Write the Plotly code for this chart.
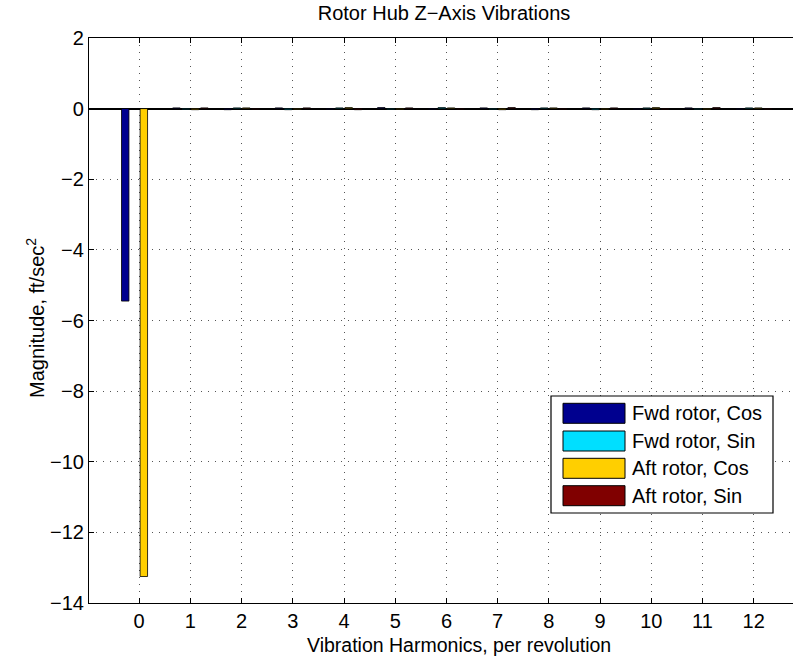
import plotly.graph_objects as go

# Harmonic numbers (per revolution) on the x axis
harmonics = list(range(0, 13))

# Hub vibration components, ft/sec^2
fwd_cos = [-5.45, 0.02, -0.03, 0.02, -0.02, 0.03, -0.02, 0.02, -0.03, 0.02, -0.02, 0.02, -0.02]
fwd_sin = [0.0, -0.02, 0.02, -0.03, 0.02, -0.02, 0.03, -0.02, 0.02, -0.03, 0.02, -0.02, 0.02]
aft_cos = [-13.25, -0.03, 0.02, -0.02, 0.03, -0.02, 0.02, -0.03, 0.02, -0.02, 0.03, -0.02, 0.02]
aft_sin = [0.0, 0.02, -0.02, 0.02, -0.03, 0.02, -0.02, 0.03, -0.02, 0.02, -0.02, 0.03, -0.02]

series_names = ["Fwd rotor, Cos", "Fwd rotor, Sin", "Aft rotor, Cos", "Aft rotor, Sin"]
series_values = [fwd_cos, fwd_sin, aft_cos, aft_sin]
series_colors = ["#00008F", "#00DFFF", "#FFCF00", "#800000"]

y_ticks = list(range(-14, 3, 2))

W, H = 793, 660
L, R, T, B = 89, 0, 38, 57
FONT = "Liberation Sans, Arial, Helvetica, sans-serif"
FS = 20

fig = go.Figure()
for name, vals, col in zip(series_names, series_values, series_colors):
    fig.add_trace(go.Bar(
        x=harmonics, y=vals, name=name,
        marker=dict(color=col, line=dict(color="black", width=0.8)),
        showlegend=False,
    ))

# Pixel -> paper helpers for the hand-built legend box and axis labels
pw, ph = W - L - R, H - T - B
def px(x):
    return (x - L) / pw
def py(y):
    return (H - B - y) / ph

shapes = [dict(type="rect", xref="paper", yref="paper",
               x0=px(551), x1=px(773), y0=py(513), y1=py(396),
               line=dict(color="black", width=1.2), fillcolor="white", layer="above")]
annotations = []
row_centers = [413.3, 441.0, 468.3, 495.7]
for name, col, yc in zip(series_names, series_colors, row_centers):
    shapes.append(dict(type="rect", xref="paper", yref="paper",
                       x0=px(563), x1=px(625), y0=py(yc + 10), y1=py(yc - 10),
                       line=dict(color="black", width=1), fillcolor=col, layer="above"))
    annotations.append(dict(xref="paper", yref="paper", x=px(630), y=py(yc),
                            xanchor="left", yanchor="middle", text=name, showarrow=False,
                            font=dict(family=FONT, size=FS, color="black")))

# Axis labels
annotations.append(dict(xref="paper", yref="paper", x=px(459), y=py(645),
                        xanchor="center", yanchor="middle",
                        text="Vibration Harmonics, per revolution", showarrow=False,
                        font=dict(family=FONT, size=19.5, color="black")))
annotations.append(dict(xref="paper", yref="paper", x=px(35), y=py(318),
                        xanchor="center", yanchor="middle", textangle=-90,
                        text="Magnitude, ft/sec<sup>2</sup>", showarrow=False,
                        font=dict(family=FONT, size=FS, color="black")))

fig.update_layout(
    width=W, height=H,
    margin=dict(l=L, r=R, t=T, b=B),
    paper_bgcolor="white", plot_bgcolor="white",
    barmode="group", bargap=0.273, bargroupgap=0.2,
    font=dict(family=FONT, size=FS, color="black"),
    title=dict(text="Rotor Hub Z\u2212Axis Vibrations", x=px(444), xref="paper",
               xanchor="center", y=1 - 13 / H, yanchor="middle",
               font=dict(family=FONT, size=FS, color="black")),
    shapes=shapes, annotations=annotations,
    xaxis=dict(
        range=[-0.98, (W - 139.3) / 51.2], tickmode="array", tickvals=harmonics,
        ticktext=[str(h) for h in harmonics],
        showline=True, linecolor="black", linewidth=1.2, mirror="ticks",
        ticks="inside", ticklen=5, tickcolor="black",
        showgrid=True, gridcolor="#555", gridwidth=1, griddash="1px,6px",
        zeroline=False,
    ),
    yaxis=dict(
        range=[-14, 2], tickmode="array", tickvals=y_ticks,
        showline=True, linecolor="black", linewidth=1.2, mirror=False,
        ticks="inside", ticklen=5, tickcolor="black",
        showgrid=True, gridcolor="#555", gridwidth=1, griddash="1px,6px",
        zeroline=True, zerolinecolor="black", zerolinewidth=1.5,
    ),
)

fig.write_html("out.html")
